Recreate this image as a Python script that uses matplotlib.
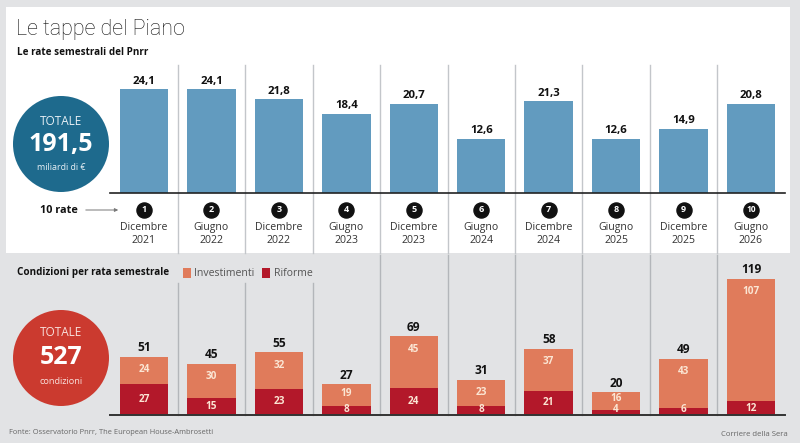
import matplotlib
matplotlib.use("Agg")
import matplotlib.pyplot as plt
from matplotlib.patches import Circle, Rectangle
from matplotlib.transforms import offset_copy
import numpy as np

# ---------------- data ----------------
rata_num = ["1", "2", "3", "4", "5", "6", "7", "8", "9", "10"]
rata_mese = ["Dicembre", "Giugno", "Dicembre", "Giugno", "Dicembre",
             "Giugno", "Dicembre", "Giugno", "Dicembre", "Giugno"]
rata_anno = ["2021", "2022", "2022", "2023", "2023",
             "2024", "2024", "2025", "2025", "2026"]
importi = [24.1, 24.1, 21.8, 18.4, 20.7, 12.6, 21.3, 12.6, 14.9, 20.8]
riforme = [27, 15, 23, 8, 24, 8, 21, 4, 6, 12]
investimenti = [24, 30, 32, 19, 45, 23, 37, 16, 43, 107]
totale_miliardi = "191,5"
totale_condizioni = "527"

FONT = "Open Sans"
plt.rcParams['font.family'] = [FONT, 'DejaVu Sans']

W, H = 800, 443
BG = "#e2e3e5"
BLUE_BAR = "#629bbf"
TEAL = "#1e6a8d"
ORANGE = "#e07b5b"
RED = "#b3182a"
RED_C = "#cb3a2f"
SEP = "#c3c6ca"

fig = plt.figure(figsize=(W / 100, H / 100), dpi=100, facecolor=BG)

# overlay axes in pixel coords
ov = fig.add_axes([0, 0, 1, 1], zorder=0)
ov.set_xlim(0, W)
ov.set_ylim(H, 0)
ov.axis("off")
ov.add_patch(Rectangle((6, 7), 784, 246, facecolor="white", edgecolor="none"))


def frac(px_left, px_right, px_top, px_bottom):
    return [px_left / W, 1 - px_bottom / H, (px_right - px_left) / W,
            (px_bottom - px_top) / H]


XL, XR = 110.3, 784.7
x = np.arange(len(importi))

# ---------------- top axes ----------------
TOP_BASE, TOP_SCALE, TOP_TOP = 193, 4.3, 65
axt = fig.add_axes(frac(XL, XR, TOP_TOP, TOP_BASE), zorder=2)
axt.set_xlim(-0.5, len(x) - 0.5)
axt.set_ylim(0, (TOP_BASE - TOP_TOP) / TOP_SCALE)
axt.axis("off")
axt.patch.set_alpha(0)
axt.bar(x, importi, width=0.72, color=BLUE_BAR, zorder=3)
axt.axhline(0, color="#222222", lw=1.2, zorder=4, clip_on=False)
up = offset_copy(axt.transData, fig, x=0, y=8, units="dots")
for xi, v in zip(x, importi):
    axt.text(xi, v, f"{v:.1f}".replace(".", ","), transform=up,
             ha="center", va="center", fontsize=8.2, fontweight="bold",
             color="#111111")
# separators (top)
for xs in x[:-1] + 0.5:
    axt.plot([xs, xs], [(TOP_BASE - TOP_TOP) / TOP_SCALE,
                        (TOP_BASE - 253) / TOP_SCALE],
             color=SEP, lw=1, clip_on=False, zorder=1)
# numbered circles and labels
circ_tr = offset_copy(axt.transData, fig, x=0, y=-17, units="dots")
lab_tr = offset_copy(axt.transData, fig, x=0, y=-41.5, units="dots")
axt.scatter(x, np.zeros(len(x)), s=118, color="#111111", transform=circ_tr,
            clip_on=False, zorder=5)
for xi, n, m, a in zip(x, rata_num, rata_mese, rata_anno):
    axt.text(xi, 0, n, transform=circ_tr, ha="center", va="center",
             fontsize=6.5 if len(n) == 1 else 6, fontweight="bold",
             color="white", zorder=6)
    axt.text(xi, 0, f"{m}\n{a}", transform=lab_tr, ha="center",
             va="center", fontsize=7.6, color="#333333", linespacing=1.25)

# ---------------- bottom axes ----------------
BOT_BASE, BOT_SCALE, BOT_TOP = 415, 1.143, 270
axb = fig.add_axes(frac(XL, XR, BOT_TOP, BOT_BASE), zorder=2)
axb.set_xlim(-0.5, len(x) - 0.5)
ymax_b = (BOT_BASE - BOT_TOP) / BOT_SCALE
axb.set_ylim(0, ymax_b)
axb.axis("off")
axb.patch.set_alpha(0)
axb.bar(x, riforme, width=0.72, color=RED, zorder=3)
axb.bar(x, investimenti, bottom=riforme, width=0.72, color=ORANGE, zorder=3)
axb.plot([-0.5, len(x) - 0.5], [0, 0], color="#333333", lw=1.4, zorder=4,
         clip_on=False)
for i, xs in enumerate(x[:-1] + 0.5):
    ytop_px = 283 if i < 3 else 255
    axb.plot([xs, xs], [(BOT_BASE - ytop_px) / BOT_SCALE, 0],
             color="#b3b6ba", lw=1, clip_on=False, zorder=1)
for xi, r, inv in zip(x, riforme, investimenti):
    tot = r + inv
    axb.text(xi, tot, str(tot),
             transform=offset_copy(axb.transData, fig, y=9, units="dots"),
             ha="center", va="center", fontsize=8.6, fontweight="bold",
             color="#111111")
    seg_px = inv * BOT_SCALE
    if seg_px > 26:
        off = -13
    else:
        off = -max(6, seg_px / 2 - 1) if seg_px > 20 else -6
    axb.text(xi, tot, str(inv),
             transform=offset_copy(axb.transData, fig, y=off, units="dots"),
             ha="center", va="center", fontsize=7.2, fontweight="bold",
             color="#fbe6d4", zorder=5)
    ry = max(r / 2, 5.0 / BOT_SCALE)
    axb.text(xi, ry, str(r), ha="center", va="center", fontsize=7.2,
             fontweight="bold", color="#fbe6d4", zorder=5)

# ---------------- titles & decorations ----------------
ov.text(16, 29, "Le tappe del Piano", fontsize=15.5, fontweight="light",
        color="#111111", ha="left", va="center", family=["Roboto", "DejaVu Sans"])
ov.text(17, 52, "Le rate semestrali del Pnrr", fontsize=7.1,
        fontweight="bold", color="#111111", ha="left", va="center")

ov.add_patch(Circle((61, 144), 48, facecolor=TEAL, edgecolor="none"))
ov.text(61, 121, "TOTALE", fontsize=8.5, color="#e8f0f5", ha="center",
        va="center")
ov.text(61, 145, totale_miliardi, fontsize=18, fontweight="bold",
        color="white", ha="center", va="center")
ov.text(61, 168, "miliardi di €", fontsize=6.4, color="#e8f0f5",
        ha="center", va="center")

ov.text(40, 210, "10 rate", fontsize=7.8, fontweight="bold",
        color="#111111", ha="left", va="center")
ov.annotate("", xy=(121, 210), xytext=(83, 210),
            arrowprops=dict(arrowstyle="-|>", color="#777777", lw=0.7,
                            mutation_scale=5))

ov.text(17, 273, "Condizioni per rata semestrale", fontsize=7.1,
        fontweight="bold", color="#111111", ha="left", va="center")
ov.add_patch(Rectangle((183, 268), 8, 10, facecolor=ORANGE,
                       edgecolor="none"))
ov.text(194, 273, "Investimenti", fontsize=7.6, color="#555555",
        ha="left", va="center")
ov.add_patch(Rectangle((262, 268), 8, 10, facecolor=RED, edgecolor="none"))
ov.text(274, 273, "Riforme", fontsize=7.6, color="#555555",
        ha="left", va="center")

ov.add_patch(Circle((61, 358), 48, facecolor=RED_C, edgecolor="none"))
ov.text(61, 333, "TOTALE", fontsize=8.5, color="#f8e0dc", ha="center",
        va="center")
ov.text(61, 357, totale_condizioni, fontsize=18, fontweight="bold",
        color="white", ha="center", va="center")
ov.text(61, 382, "condizioni", fontsize=6.6, color="#f8e0dc",
        ha="center", va="center")

ov.text(9, 433, "Fonte: Osservatorio Pnrr, The European House-Ambrosetti",
        fontsize=5.4, color="#666666", ha="left", va="center")
ov.text(788, 434, "Corriere della Sera", fontsize=5.6, color="#666666",
        ha="right", va="center")

fig.savefig("out.png", dpi=100, facecolor=BG)
